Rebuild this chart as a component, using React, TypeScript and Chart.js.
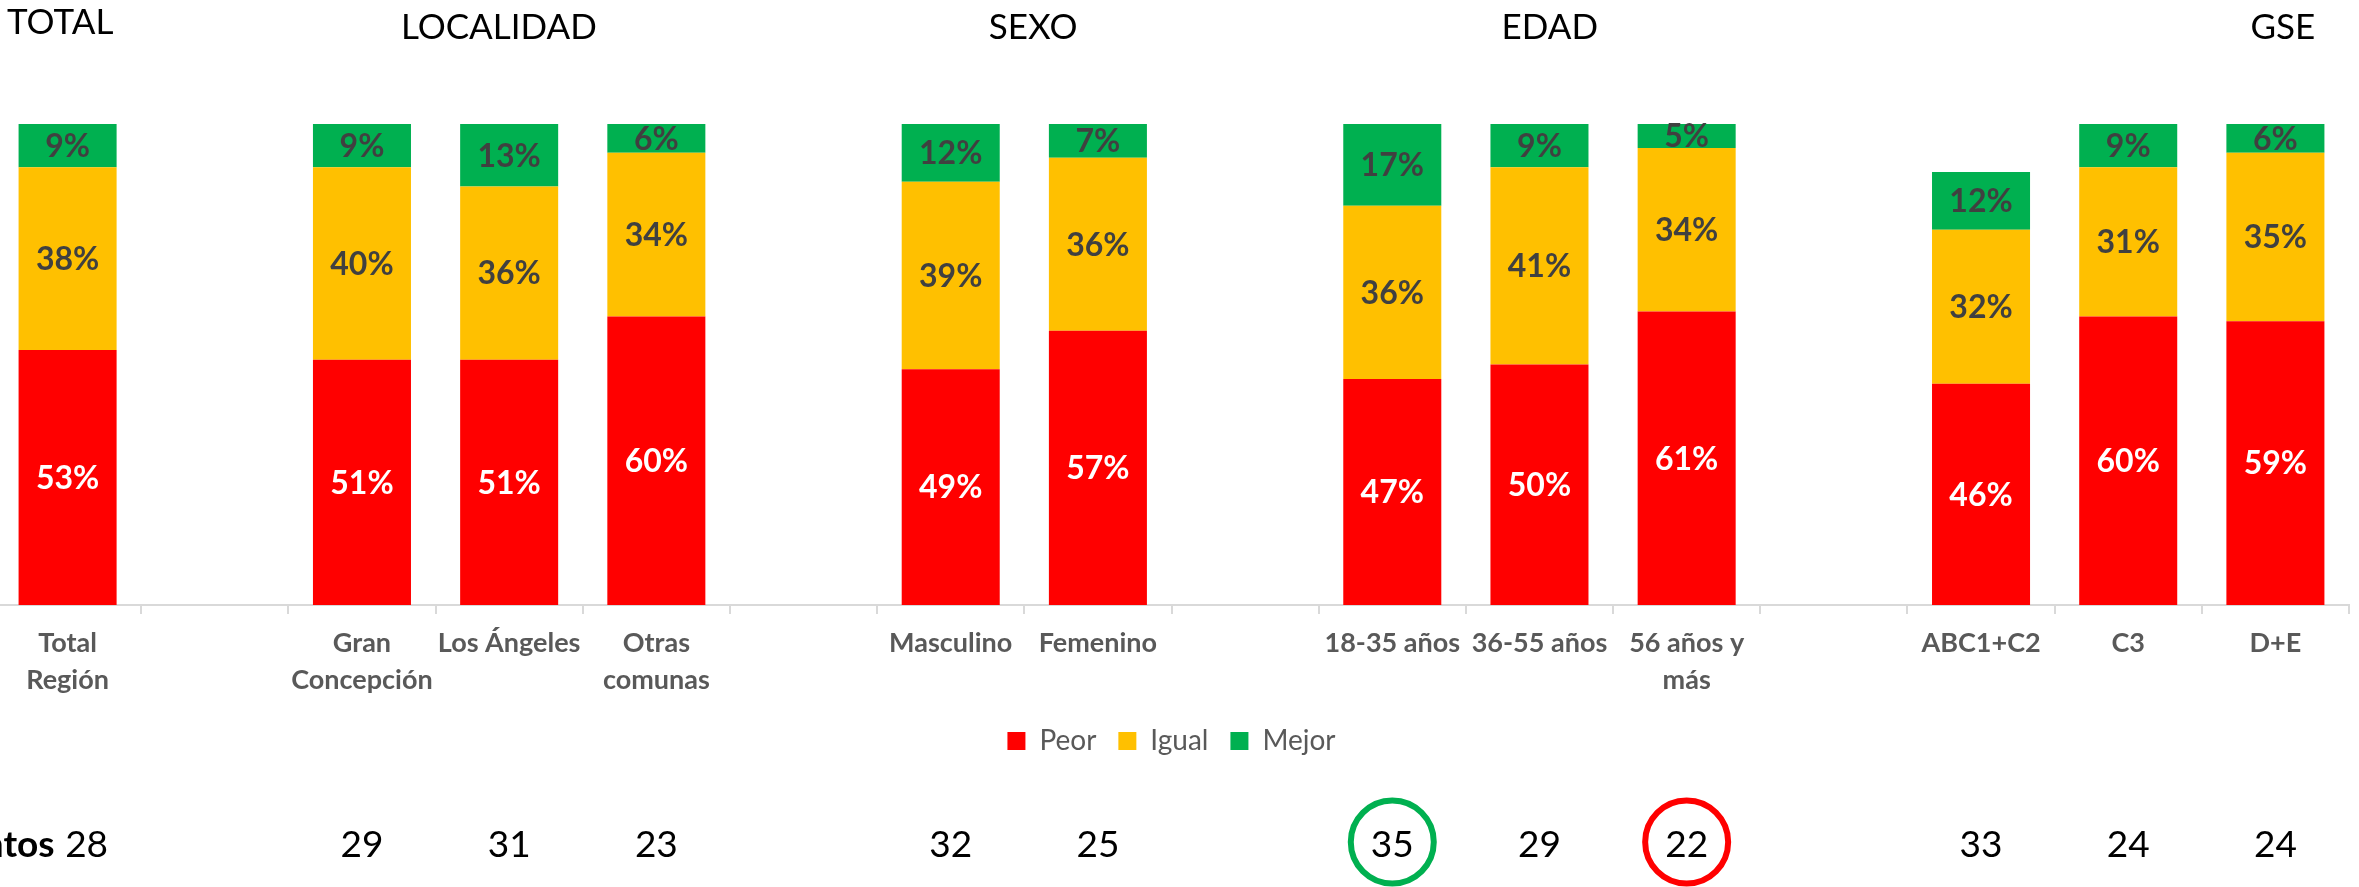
import React, { useEffect, useRef } from "react";
import { Chart, registerables } from "chart.js";

Chart.register(...registerables);

// ---------- DATA ----------
const categories: (string | string[])[] = [
  ["Total", "Región"],
  "",
  ["Gran", "Concepción"],
  "Los Ángeles",
  ["Otras", "comunas"],
  "",
  "Masculino",
  "Femenino",
  "",
  "18-35 años",
  "36-55 años",
  ["56 años y", "más"],
  "",
  "ABC1+C2",
  "C3",
  "D+E",
];
const peor = [53, null, 51, 51, 60, null, 49, 57, null, 47, 50, 61, null, 46, 60, 59];
const igual = [38, null, 40, 36, 34, null, 39, 36, null, 36, 41, 34, null, 32, 31, 35];
const mejor = [9, null, 9, 13, 6, null, 12, 7, null, 17, 9, 5, null, 12, 9, 6];
const seriesNames = ["Peor", "Igual", "Mejor"];
const puntos = [28, null, 29, 31, 23, null, 32, 25, null, 35, 29, 22, null, 33, 24, 24];
const puntosLabel = "ntos";
const groupTitles = ["TOTAL", "LOCALIDAD", "SEXO", "EDAD", "GSE"];
const circledGood = ["18-35 años"];
const circledBad = ["56 años y más"];

// ---------- LAYOUT / STYLE ----------
const W = 2365;
const H = 887;
const FONT = "Lato, 'Open Sans', sans-serif";
const COLORS = ["#FF0000", "#FFC000", "#00B050"];
const LABEL_COLORS = ["#FFFFFF", "#404040", "#404040"];
const TITLE_ANCHORS = [-0.05, 2.93, 6.56, 10.07, 15.05];
const TITLE_Y = [23, 28, 28, 28, 28];

const catName = (c: string | string[]) => (Array.isArray(c) ? c.join(" ") : c);

const overlayPlugin = {
  id: "overlay",
  afterDatasetsDraw(chart: any) {
    const ctx = chart.ctx;
    ctx.save();
    ctx.textAlign = "center";
    ctx.textBaseline = "middle";
    ctx.font = `bold 32px ${FONT}`;
    chart.data.datasets.forEach((ds: any, di: number) => {
      const meta = chart.getDatasetMeta(di);
      meta.data.forEach((el: any, i: number) => {
        const v = ds.data[i];
        if (v === null || v === undefined) return;
        const p = el.getProps(["x", "y", "base"], true);
        ctx.fillStyle = LABEL_COLORS[di];
        ctx.fillText(`${v}%`, p.x, (p.y + p.base) / 2 + 1);
      });
    });
    ctx.restore();
  },
  afterDraw(chart: any) {
    const ctx = chart.ctx;
    const xs = chart.scales.x;
    ctx.save();
    // group titles
    ctx.fillStyle = "#000000";
    ctx.textAlign = "center";
    ctx.textBaseline = "middle";
    ctx.font = `35px ${FONT}`;
    groupTitles.forEach((t, i) => {
      ctx.fillText(t, xs.getPixelForValue(TITLE_ANCHORS[i]), TITLE_Y[i]);
    });
    // puntos row
    const rowY = 845;
    ctx.font = `37px ${FONT}`;
    puntos.forEach((v, i) => {
      if (v === null) return;
      const cx = xs.getPixelForValue(i);
      if (i === 0) {
        ctx.textAlign = "center";
        ctx.fillText(String(v), cx + 19, rowY);
        ctx.font = `bold 37px ${FONT}`;
        ctx.textAlign = "right";
        ctx.fillText(puntosLabel, cx - 13, rowY);
        ctx.font = `37px ${FONT}`;
        ctx.textAlign = "center";
      } else {
        ctx.fillText(String(v), cx, rowY);
      }
      const name = catName(categories[i]);
      const col = circledGood.includes(name) ? "#00B050" : circledBad.includes(name) ? "#FF0000" : null;
      if (col) {
        ctx.beginPath();
        ctx.strokeStyle = col;
        ctx.lineWidth = 6;
        ctx.arc(cx, 842, 41.5, 0, Math.PI * 2);
        ctx.stroke();
      }
    });
    ctx.restore();
  },
};

export default function App() {
  const ref = useRef<HTMLCanvasElement | null>(null);
  useEffect(() => {
    if (!ref.current) return;
    Chart.defaults.font.family = FONT;
    const data = [peor, igual, mejor];
    const chart = new Chart(ref.current, {
      type: "bar",
      data: {
        labels: categories,
        datasets: data.map((d, i) => ({
          label: seriesNames[i],
          data: d,
          backgroundColor: COLORS[i],
          borderWidth: 0,
          categoryPercentage: 1,
          barPercentage: 0.666,
        })),
      },
      options: {
        responsive: false,
        animation: false,
        layout: { padding: { top: 124, bottom: 122, left: 0, right: 10 } },
        plugins: {
          legend: {
            position: "bottom",
            labels: {
              boxWidth: 18,
              boxHeight: 18,
              color: "#595959",
              font: { size: 28 },
              padding: 22,
            },
          },
          tooltip: { enabled: false },
        },
        scales: {
          x: {
            stacked: true,
            grid: {
              display: true,
              drawOnChartArea: false,
              drawTicks: true,
              tickLength: 9,
              color: "#d9d9d9",
              lineWidth: 2,
              offset: true,
            },
            border: { display: true, color: "#d9d9d9", width: 2 },
            ticks: {
              color: "#595959",
              font: { size: 27, weight: "bold", lineHeight: 37 / 27 },
              padding: 11,
              maxRotation: 0,
              minRotation: 0,
              autoSkip: false,
            },
            afterFit: (s: any) => {
              s.height = 100;
            },
          },
          y: {
            stacked: true,
            display: false,
            min: 0,
            max: 100,
          },
        },
      },
      plugins: [overlayPlugin],
    } as any);
    return () => chart.destroy();
  }, []);
  return (
    <div style={{ position: "fixed", left: 0, top: 0, width: 2359, height: H, overflow: "hidden", background: "#fff" }}>
      <canvas
        ref={ref}
        width={W}
        height={H}
        style={{ position: "absolute", left: -6, top: 0, width: W, height: H }}
      />
    </div>
  );
}
